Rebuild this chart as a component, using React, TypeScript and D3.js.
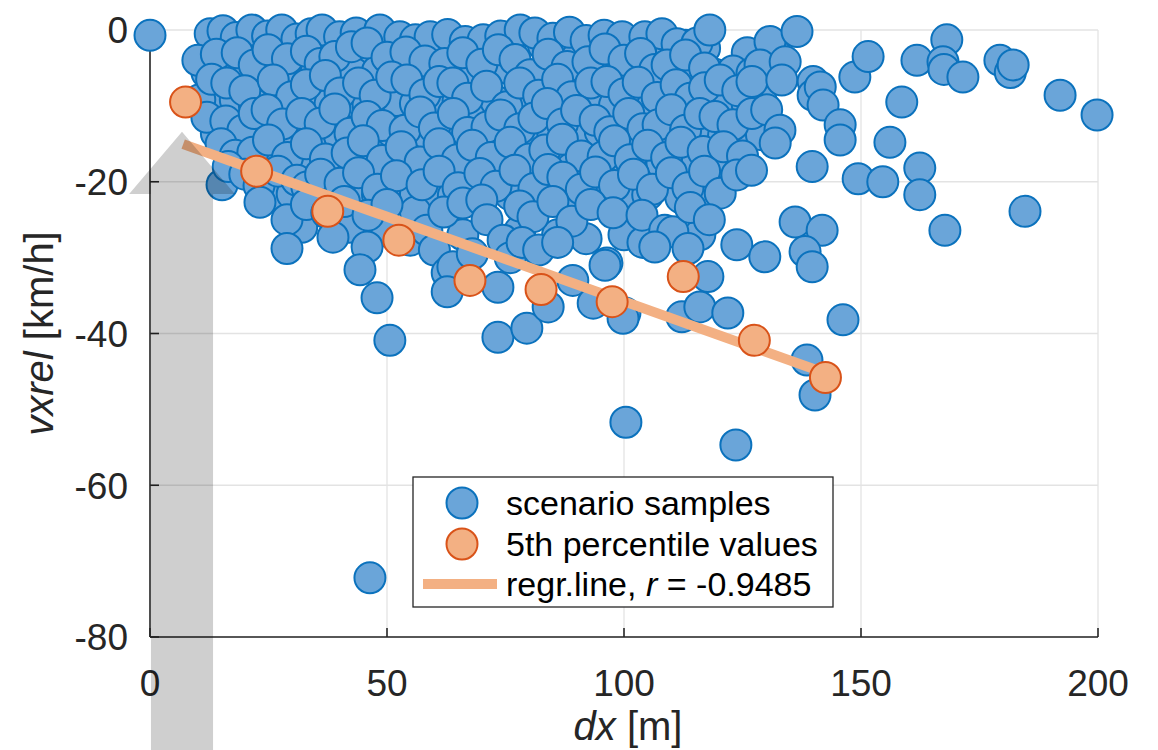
import React from 'react';
import * as d3 from 'd3';

const W = 1158;
const H = 750;
const plot = { left: 150, right: 1098, top: 30, bottom: 637 };

const xTicks = [0, 50, 100, 150, 200];
const yTicks = [0, -20, -40, -60, -80];

// scenario samples [dx (m), vxrel (km/h)]
const samples: [number, number][] = [
  [0, -0.7],
  // fill rows (interior of the dense cloud)
  [14, -2.2], [20, -2.0], [26, -1.8], [30, -2.4], [38, -2.0], [46, -2.6], [51, -1.9], [57, -2.3], [61, -2.0], [68, -2.5], [72, -1.9],
  [76, -2.2], [83, -2.0], [87, -2.6], [90, -2.1], [94, -2.4], [98, -1.8], [102, -2.3], [106, -2.0], [110, -2.5], [113, -2.0], [117, -2.4],
  [126, -3.0], [132, -3.2],
  [12, -5.6], [16, -5.2], [20, -5.8], [24, -5.4], [28, -5.9], [31, -5.2], [35, -5.6], [39, -5.3], [43, -5.7], [48, -5.4], [52, -5.9],
  [56, -5.3], [60, -5.6], [65, -5.4], [68, -5.9], [72, -5.5], [76, -5.2], [79, -5.7], [86, -5.4], [90, -5.8], [95, -5.3], [98, -5.9],
  [102, -5.5], [105, -5.1], [111, -5.6], [115, -5.3], [119, -5.8], [123, -5.4], [127, -5.7], [131, -6.0],
  [14, -9.6], [18, -9.2], [22, -9.8], [27, -9.4], [31, -9.9], [35, -9.3], [38, -9.7], [42, -9.4], [46, -9.8], [52, -9.3], [56, -9.7],
  [59, -9.4], [62, -9.9], [65, -9.3], [69, -9.7], [73, -9.4], [77, -9.9], [80, -9.5], [85, -9.8], [88, -9.3], [91, -9.7], [95, -9.4],
  [98, -9.9], [102, -9.5], [105, -9.8], [109, -9.3], [112, -9.7], [115, -9.4], [118, -9.9], [122, -9.5], [126, -9.8], [129, -9.4],
  [14, -13.6], [17, -14.0], [24, -13.4], [27, -13.9], [30, -13.5], [34, -13.8], [38, -13.4], [40, -14.0], [44, -13.5], [47, -13.9],
  [51, -13.4], [55, -13.8], [58, -13.5], [62, -14.0], [66, -13.4], [69, -13.8], [73, -13.5], [76, -13.9], [80, -13.4], [85, -13.8],
  [89, -13.5], [92, -14.0], [95, -13.4], [99, -13.8], [103, -13.5], [106, -13.9], [110, -13.4], [115, -13.8], [118, -13.5], [121, -13.9],
  [125, -13.4], [129, -13.8],
  [19, -18.0], [22, -17.6], [26, -18.2], [30, -17.7], [35, -18.1], [39, -17.6], [43, -18.2], [47, -17.8], [50, -18.3], [55, -17.7],
  [59, -18.1], [63, -17.6], [67, -18.2], [71, -17.8], [75, -18.3], [79, -17.7], [83, -18.1], [86, -17.6], [89, -18.2], [93, -17.8],
  [96, -18.3], [100, -17.7], [104, -18.1], [108, -17.6], [112, -18.2], [115, -17.8], [119, -18.3], [122, -17.7],
  [26, -22.0], [30, -21.6], [35, -22.2], [39, -21.8], [44, -22.3], [48, -21.7], [52, -22.1], [56, -21.6], [60, -22.2], [64, -21.8],
  [68, -22.3], [76, -21.7], [83, -22.1], [87, -21.6], [91, -22.2], [95, -21.8], [100, -22.3], [105, -21.7], [112, -22.1], [116, -21.6],
  [32, -26.0], [42, -26.0], [50, -26.5], [56, -24.0], [66, -27.0], [78, -26.5], [86, -27.0], [92, -27.5], [100, -27.0], [104, -28.0], [116, -27.0],
  // top row
  [12.7, -0.5], [15.4, -0.1], [18.2, -1.0], [21.5, 0], [24.8, -0.8], [27.8, 0], [31.0, -1.2], [34.0, -0.5], [36.3, 0], [40.0, -0.9],
  [43.5, -0.4], [48.5, 0], [52.7, -0.9], [56.0, -1.3], [59.1, -0.9], [62.8, -0.6], [66.5, -1.5], [70.3, -1.3], [74.0, -0.8], [78.1, 0],
  [81.2, -0.4], [85.0, -1.1], [88.5, -0.3], [92.0, -1.4], [95.8, -0.7], [99.6, -0.9], [104.4, -0.9], [108.0, -0.5], [111.2, -1.8],
  [115.4, -1.7], [118.1, 0], [130.8, -1.5], [136.5, -0.2],
  // row B
  [10.1, -4.0], [14.0, -3.2], [18.4, -3.0], [22.0, -4.6], [24.9, -2.6], [29.0, -3.8], [33.0, -2.8], [35.9, -4.4], [39.0, -3.5], [42.5, -2.2],
  [45.8, -1.7], [50.0, -3.6], [54.0, -2.9], [58.0, -4.1], [62.2, -4.4], [66.0, -3.0], [70.0, -4.5], [73.5, -2.6], [77.0, -3.9], [80.2, -5.9],
  [84.0, -3.2], [88.0, -4.8], [92.4, -4.2], [96.0, -2.5], [100.0, -4.0], [103.5, -3.1], [106.5, -5.2], [109.1, -4.6], [113.0, -3.3],
  [117.0, -5.0], [128.7, -4.6], [134.0, -4.2],
  // row C
  [10.5, -9.2], [13.0, -6.5], [16.2, -7.0], [20.0, -8.0], [26.0, -6.6], [29.9, -8.8], [33.0, -7.2], [37.0, -6.0], [40.1, -8.3], [44.0, -7.0],
  [47.5, -8.6], [51.0, -6.2], [54.2, -6.6], [58.0, -8.5], [61.0, -6.8], [63.9, -7.0], [67.0, -9.0], [71.0, -7.4], [75.3, -10.1], [78.0, -7.0],
  [82.0, -8.6], [86.0, -6.5], [89.0, -8.8], [93.0, -7.0], [96.4, -6.8], [100.0, -8.4], [103.0, -6.9], [107.0, -8.9], [111.0, -7.2],
  [114.0, -9.0], [117.0, -7.6], [120.3, -6.6], [124.0, -8.0], [127.0, -6.8], [133.3, -6.6], [139.9, -6.8], [139.9, -8.6], [141.4, -7.5],
  // row D
  [12.0, -11.5], [16.0, -12.0], [19.6, -13.2], [22.0, -11.0], [24.7, -10.5], [28.0, -12.4], [32.0, -11.0], [35.9, -12.3], [39.0, -10.4],
  [42.2, -13.6], [45.8, -11.4], [49.0, -12.6], [53.8, -13.2], [57.0, -10.8], [60.0, -12.9], [64.0, -11.0], [67.0, -13.5], [71.1, -12.8],
  [74.0, -11.2], [78.0, -13.0], [81.0, -11.6], [83.8, -9.7], [87.0, -12.4], [90.0, -10.6], [93.9, -11.9], [97.0, -13.4], [101.0, -11.0],
  [104.0, -13.0], [107.2, -12.5], [110.0, -10.5], [113.0, -13.2], [116.0, -11.0], [119.2, -11.4], [123.0, -12.5], [127.0, -11.0],
  [130.1, -10.5], [132.9, -13.2], [142.0, -9.9], [145.6, -12.5],
  // row E
  [15.0, -15.0], [18.0, -16.5], [21.7, -16.1], [25.0, -14.5], [29.0, -16.8], [33.0, -15.0], [37.0, -17.0], [41.6, -16.2], [45.0, -14.6],
  [49.0, -17.2], [53.0, -15.4], [57.0, -17.4], [61.0, -15.0], [64.8, -17.1], [68.0, -15.2], [72.0, -16.8], [76.0, -14.8], [80.0, -17.0],
  [83.3, -15.8], [87.0, -14.4], [91.0, -16.6], [95.6, -16.7], [98.0, -14.6], [101.3, -17.1], [105.0, -15.2], [109.0, -16.8], [112.0, -14.8],
  [116.7, -16.0], [121.0, -15.4], [125.0, -16.6], [131.9, -14.9], [145.6, -14.5],
  // row F
  [15.2, -20.4], [16.5, -18.0], [20.0, -19.0], [23.0, -20.5], [27.0, -18.6], [31.0, -19.8], [33.1, -20.7], [36.0, -19.0], [40.1, -20.2],
  [44.0, -18.8], [48.0, -21.0], [52.0, -19.2], [57.4, -20.4], [61.0, -18.6], [65.0, -20.8], [69.6, -18.9], [73.0, -20.6], [77.0, -18.5],
  [81.0, -20.9], [84.0, -18.4], [87.1, -19.4], [91.0, -21.0], [94.0, -18.7], [98.0, -20.5], [102.0, -19.0], [106.0, -21.0], [110.0, -18.8],
  [113.5, -20.8], [117.0, -18.6], [120.3, -21.5], [123.8, -19.1], [126.9, -18.5], [139.7, -18.0], [149.4, -19.6], [154.6, -20.0],
  // row G
  [23.2, -22.7], [28.9, -25.0], [33.0, -23.0], [37.3, -24.1], [41.0, -22.6], [46.0, -24.4], [50.0, -23.0], [54.9, -27.7], [58.4, -26.4],
  [62.0, -24.0], [66.0, -22.8], [70.0, -22.4], [71.1, -25.0], [74.5, -27.7], [78.0, -23.2], [80.8, -24.6], [85.0, -22.6], [89.0, -25.2],
  [93.0, -23.0], [97.7, -24.1], [103.8, -24.4], [108.6, -26.4], [110.3, -26.6], [114.0, -23.4], [118.0, -25.0], [136.1, -25.3], [141.8, -26.4],
  // row H
  [28.9, -28.8], [38.6, -27.3], [45.8, -28.6], [44.3, -31.6], [60.0, -29.0], [62.7, -32.0], [63.9, -31.2], [62.7, -34.5], [68.0, -29.5],
  [73.4, -33.9], [76.0, -30.0], [78.5, -28.0], [82.0, -29.0], [86.0, -28.0], [89.2, -33.0], [96.4, -30.7], [96.0, -31.0], [106.5, -28.6],
  [113.5, -28.8], [117.7, -32.5], [123.8, -28.3], [129.7, -29.9], [138.2, -29.2], [139.7, -31.2],
  // lower scattered
  [47.9, -35.3], [50.6, -40.9], [73.4, -40.5], [79.5, -39.3], [84.0, -36.5], [93.5, -36.0], [100.2, -37.3], [99.8, -38.0],
  [112.2, -37.8], [116.0, -36.5], [121.9, -37.3], [146.2, -38.2], [138.6, -43.5], [140.3, -48.1], [100.4, -51.7], [123.6, -54.7], [46.4, -72.2],
  // right scattered
  [148.7, -6.2], [151.5, -3.5], [158.6, -9.5], [156.1, -14.8], [161.8, -4.0], [168.1, -1.3], [167.3, -4.2], [167.5, -5.2], [171.5, -6.2],
  [179.3, -4.0], [181.5, -5.6], [182.1, -4.6], [192.0, -8.6], [199.8, -11.2], [162.4, -18.2], [162.4, -21.7], [167.7, -26.4], [184.6, -23.9],
];

// 5th percentile values
const pctDx = [7.5, 22.5, 37.5, 52.5, 67.5, 82.5, 97.5, 112.5, 127.5, 142.5];
const pctVx = [-9.5, -18.6, -23.9, -27.7, -33.0, -34.2, -35.8, -32.5, -40.9, -45.8];

const legendLabels = ['scenario samples', '5th percentile values'];
const rText = '-0.9485';

// annotation arrow (data units)
const arrowShape: [number, number][] = [
  [6.75, -13.4], [17.9, -21.6], [13.3, -21.6], [13.3, -97], [0.2, -97], [0.2, -21.6], [-4.4, -21.6],
];

const BLUE_FILL = '#6aa5d9';
const BLUE_EDGE = '#0b72bd';
const ORANGE_FILL = '#f3b083';
const ORANGE_EDGE = '#d95319';
const AX = '#262626';
const FONT = '"Liberation Sans", Arial, Helvetica, sans-serif';

export default function App() {
  const x = d3.scaleLinear().domain([0, 200]).range([plot.left, plot.right]);
  const y = d3.scaleLinear().domain([-80, 0]).range([plot.bottom, plot.top]);

  // least-squares regression line through percentile values
  const mx = d3.mean(pctDx)!;
  const my = d3.mean(pctVx)!;
  const sxy = d3.sum(pctDx.map((v, i) => (v - mx) * (pctVx[i] - my)));
  const sxx = d3.sum(pctDx.map((v) => (v - mx) ** 2));
  const slope = sxy / sxx;
  const icpt = my - slope * mx;
  const x0 = d3.min(pctDx)! - 0.5;
  const x1 = d3.max(pctDx)!;
  const line = d3.line<[number, number]>().x((d) => x(d[0])).y((d) => y(d[1]));
  const regPath = line([[x0, icpt + slope * x0], [x1, icpt + slope * x1]]) || '';
  const arrowPath = line.curve(d3.curveLinearClosed)(arrowShape) || '';

  const R = 15.5;
  const tickLen = 9;
  const lg = { x: 413, y: 477, w: 420, h: 130 };

  return (
    <svg width={W} height={H} style={{ position: 'absolute', left: 0, top: 0, background: '#fff' }} fontFamily={FONT}>
      <rect x={0} y={0} width={W} height={H} fill="#fff" />
      {/* grid */}
      {xTicks.map((t) => (
        <line key={'gx' + t} x1={x(t)} x2={x(t)} y1={plot.top} y2={plot.bottom} stroke="#e3e3e3" strokeWidth={1.3} />
      ))}
      {yTicks.map((t) => (
        <line key={'gy' + t} x1={plot.left} x2={plot.right} y1={y(t)} y2={y(t)} stroke="#e3e3e3" strokeWidth={1.3} />
      ))}
      {/* axes */}
      <line x1={plot.left} x2={plot.left} y1={plot.top} y2={plot.bottom} stroke={AX} strokeWidth={1.6} />
      <line x1={plot.left} x2={plot.right} y1={plot.bottom} y2={plot.bottom} stroke={AX} strokeWidth={1.6} />
      {yTicks.map((t) => (
        <line key={'ty' + t} x1={plot.left} x2={plot.left + tickLen} y1={y(t)} y2={y(t)} stroke={AX} strokeWidth={1.6} />
      ))}
      {xTicks.map((t) => (
        <line key={'tx' + t} x1={x(t)} x2={x(t)} y1={plot.bottom} y2={plot.bottom - tickLen} stroke={AX} strokeWidth={1.6} />
      ))}
      {/* tick labels */}
      {yTicks.map((t) => (
        <text key={'ly' + t} x={128} y={y(t)} dy="0.36em" textAnchor="end" fontSize={37} fill={AX}>
          {t}
        </text>
      ))}
      {xTicks.map((t) => (
        <text key={'lx' + t} x={x(t)} y={696} textAnchor="middle" fontSize={37} fill={AX}>
          {t}
        </text>
      ))}
      {/* axis labels */}
      <text x={(plot.left + plot.right) / 2 + 4} y={740} textAnchor="middle" fontSize={40} fill={AX}>
        <tspan fontStyle="italic">dx</tspan> [m]
      </text>
      <text transform={`translate(53,${(plot.top + plot.bottom) / 2}) rotate(-90)`} textAnchor="middle" fontSize={40} fill={AX}>
        <tspan fontStyle="italic">vxrel</tspan> [km/h]
      </text>
      {/* samples */}
      {samples.map((d, i) => (
        <circle key={'s' + i} cx={x(d[0])} cy={y(d[1])} r={R} fill={BLUE_FILL} stroke={BLUE_EDGE} strokeWidth={2} />
      ))}
      {/* regression line */}
      <path d={regPath} stroke={ORANGE_FILL} strokeWidth={10} fill="none" />
      {/* percentile points */}
      {pctDx.map((v, i) => (
        <circle key={'p' + i} cx={x(v)} cy={y(pctVx[i])} r={R} fill={ORANGE_FILL} stroke={ORANGE_EDGE} strokeWidth={2} />
      ))}
      {/* arrow annotation */}
      <path d={arrowPath} fill="#000" fillOpacity={0.19} stroke="none" />
      {/* legend */}
      <rect x={lg.x} y={lg.y} width={lg.w} height={lg.h} fill="#fff" stroke={AX} strokeWidth={1.3} />
      <circle cx={462} cy={503} r={R} fill={BLUE_FILL} stroke={BLUE_EDGE} strokeWidth={2} />
      <circle cx={462} cy={544} r={R} fill={ORANGE_FILL} stroke={ORANGE_EDGE} strokeWidth={2} />
      <line x1={423} x2={497} y1={584} y2={584} stroke={ORANGE_FILL} strokeWidth={10} />
      <text x={506} y={503} dy="0.36em" fontSize={34} fill="#000">{legendLabels[0]}</text>
      <text x={506} y={544} dy="0.36em" fontSize={34} fill="#000">{legendLabels[1]}</text>
      <text x={506} y={584} dy="0.36em" fontSize={34} fill="#000">regr.line,</text>
      <text x={646} y={584} dy="0.36em" fontSize={34} fill="#000">
        <tspan fontStyle="italic">r</tspan>{' = ' + rText}
      </text>
    </svg>
  );
}
